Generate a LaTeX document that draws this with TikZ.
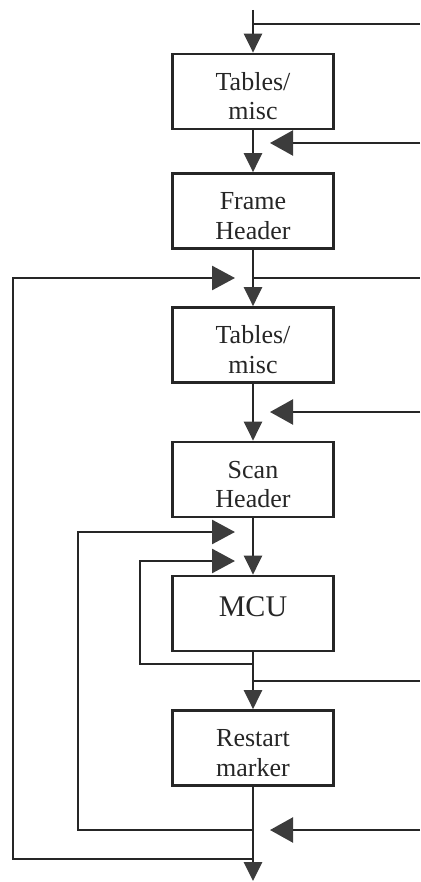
\documentclass[tikz,border=0pt]{standalone}
\usepackage{fontspec}
\setmainfont{Liberation Serif}
\usetikzlibrary{arrows.meta}
\definecolor{ink}{HTML}{262626}
\definecolor{tipgray}{HTML}{3C3C3C}
\newcommand{\lift}{\rule{0pt}{27pt}}
\begin{document}
\begin{tikzpicture}[x=1pt,y=-1pt,
  box/.style={draw=ink, line width=2.7pt, minimum width=161pt, minimum height=75pt,
    inner sep=0pt, align=center, text=ink, font=\fontsize{26}{29.5}\selectfont},
  flow/.style={draw=ink, line width=2.7pt, line join=miter},
  feed/.style={draw=ink, line width=2.3pt},
  downarrow/.style={flow, -{Triangle[length=19pt,width=18pt,color=tipgray]}},
  sidearrow/.style={flow, -{Triangle[length=23pt,width=24pt,color=tipgray]}},
  feedarrow/.style={feed, -{Triangle[length=23pt,width=25pt,color=tipgray]}}]
\useasboundingbox (0,0) rectangle (420,882);

% blocks of the stream
\node[box] (b1) at (253,91.5) {\lift Tables/\\misc};
\node[box] (b2) at (253,211) {\lift Frame\\Header};
\node[box] (b3) at (253,345) {\lift Tables/\\misc};
\node[box] (b4) at (253,479.5) {\lift Scan\\Header};
\node[box, font=\fontsize{30}{34}\selectfont, text height=20pt, text depth=15pt] (b5) at (253,613.5) {MCU};
\node[box] (b6) at (253,748) {\lift Restart\\marker};

% junction points on the main line
\coordinate (in0) at (253,10);
\coordinate (j0) at (253,24);
\coordinate (j2) at (253,278);
\coordinate (j5) at (253,664);
\coordinate (j5b) at (253,681);
\coordinate (j6a) at (253,830);
\coordinate (j6b) at (253,859);
\coordinate (out) at (253,881);

% right-hand ends
\coordinate (r0) at (420,24);
\coordinate (r1) at (420,143);
\coordinate (r2) at (420,278);
\coordinate (r3) at (420,412);
\coordinate (r5) at (420,681);
\coordinate (r6) at (420,830);

% arrow tips of the side inputs
\coordinate (t1) at (270,143);
\coordinate (t3) at (270,412);
\coordinate (t6) at (270,830);
\coordinate (tl2) at (235,278);
\coordinate (tl4) at (235,532);
\coordinate (tl5) at (235,561);

% loop corners
\coordinate (o1) at (13,859);
\coordinate (o2) at (13,278);
\coordinate (p1) at (78,830);
\coordinate (p2) at (78,532);
\coordinate (q1) at (140,664);
\coordinate (q2) at (140,561);

% main flow
\draw[downarrow] (in0) -- (b1.north);
\draw[downarrow] (b1) -- (b2);
\draw[downarrow] (b2) -- (b3);
\draw[downarrow] (b3) -- (b4);
\draw[downarrow] (b4) -- (b5);
\draw[downarrow] (b5) -- (b6);
\draw[downarrow] (b6) -- (out);

% lines to the right
\draw[feed] (j0) -- (r0);
\draw[feed] (j2) -- (r2);
\draw[feed] (j5b) -- (r5);
\draw[feedarrow] (r1) -- (t1);
\draw[feedarrow] (r3) -- (t3);
\draw[feedarrow] (r6) -- (t6);

% loops back up on the left
\draw[sidearrow] (j6b) -- (o1) -- (o2) -- (tl2);
\draw[sidearrow] (j6a) -- (p1) -- (p2) -- (tl4);
\draw[sidearrow] (j5) -- (q1) -- (q2) -- (tl5);
\end{tikzpicture}
\end{document}
